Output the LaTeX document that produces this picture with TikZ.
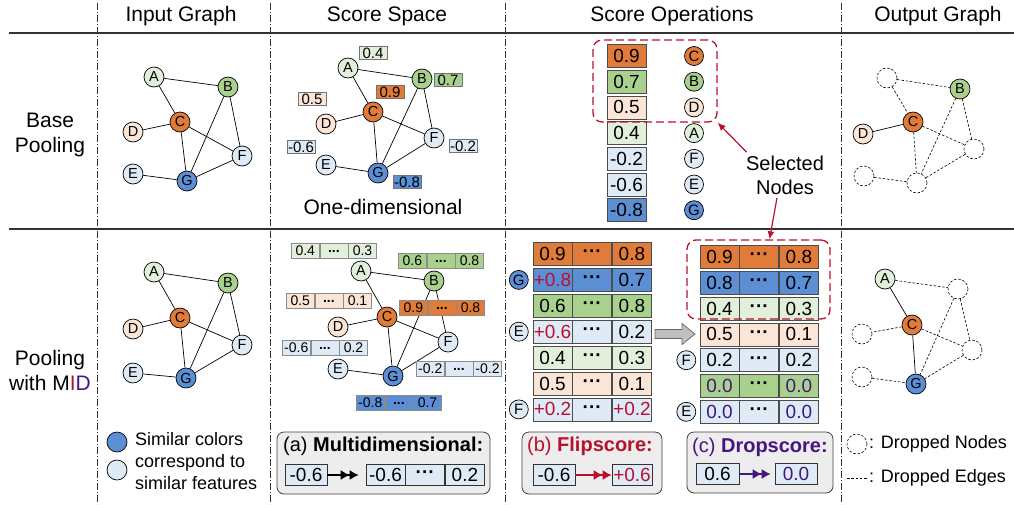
\documentclass[tikz,border=0pt]{standalone}
\usepackage{fontspec}
\setmainfont{Liberation Sans}
\usetikzlibrary{arrows.meta,positioning}

\definecolor{cOrange}{HTML}{E07B39}
\definecolor{cGreen}{HTML}{A9D18E}
\definecolor{cLgreen}{HTML}{E2EFDA}
\definecolor{cPeach}{HTML}{FBE5D6}
\definecolor{cLblue}{HTML}{DEEBF7}
\definecolor{cBlue}{HTML}{5B8ED3}
\definecolor{cRed}{HTML}{B8112E}
\definecolor{cPurple}{HTML}{45167D}
\definecolor{cRule}{HTML}{333333}

\begin{document}
\begin{tikzpicture}[x=1pt, y=-1pt,
  gnode/.style={circle, draw, line width=0.7pt, minimum size=20pt, inner sep=0pt, font=\fontsize{14.5}{14.5}\selectfont},
  gone/.style={circle, draw, line width=0.6pt, dash pattern=on 2.5pt off 1.8pt, minimum size=20pt, inner sep=0pt},
  link/.style={line width=0.7pt},
  gonelink/.style={line width=0.6pt, dash pattern=on 2.5pt off 1.8pt},
  head/.style={font=\fontsize{21}{25}\selectfont, align=center},
  sep/.style={line width=0.8pt, draw=cRule, dash pattern=on 7pt off 2pt on 1pt off 2pt},
  rule/.style={line width=1.2pt, draw=cRule},
  lab/.style={draw=black!55, line width=0.6pt, minimum width=28pt, minimum height=13pt, inner sep=0pt, font=\fontsize{15}{15}\selectfont},
  mcell/.style={draw=black!45, line width=0.6pt, minimum width=28pt, minimum height=15pt, inner sep=0pt, font=\fontsize{14}{14}\selectfont},
  tcell/.style={draw=black!70, line width=0.7pt, minimum width=39pt, minimum height=23pt, inner sep=0pt, font=\fontsize{19}{19}\selectfont},
  pcell/.style={draw=black!80, fill=cLblue, line width=0.7pt, minimum width=42pt, minimum height=21pt, inner sep=0pt, font=\fontsize{19}{19}\selectfont},
  panel/.style={draw=black!75, fill=black!7, line width=0.8pt, rounded corners=7pt},
  ptitle/.style={font=\fontsize{20}{20}\selectfont, anchor=west, inner sep=0pt},
  picked/.style={draw=cRed, line width=1.3pt, dash pattern=on 8pt off 4pt, rounded corners=9pt},
  pointer/.style={draw=cRed, line width=1.2pt, -{Latex[length=8pt, width=7pt]}},
  twotip/.style={line width=1.4pt, -{Latex[length=9pt,width=10pt]Latex[length=9pt,width=10pt]}},
  note/.style={font=\fontsize{18}{22}\selectfont, align=left, anchor=west, inner sep=1pt}
]
\useasboundingbox (0,0) rectangle (1014,504);

% frame
\draw[rule] (9,33) -- (1014,33);
\draw[rule] (9,229) -- (1014,229);
\foreach \x in {97,270,505,841}
  \draw[sep] (\x,3) -- (\x,504);

\node[head] (hin) at (181,16) {Input Graph};
\node[head] (hsc) at (387,16) {Score Space};
\node[head] (hop) at (672,16) {Score Operations};
\node[head] (hout) at (938,16) {Output Graph};
\node[head] (rbase) at (50,135) {Base\\Pooling};
\node[head] (rmid) at (50,370) {Pooling\\with M\textcolor{cRed}{I}\textcolor{cPurple}{D}};

% input graphs
\node[gnode, fill=cLgreen] (u1a) at (154,77) {A};
\node[gnode, fill=cGreen] (u1b) at (228,87) {B};
\node[gnode, fill=cOrange] (u1c) at (180,122) {C};
\node[gnode, fill=cPeach] (u1d) at (133,132) {D};
\node[gnode, fill=cLblue] (u1e) at (133,174) {E};
\node[gnode, fill=cLblue] (u1f) at (242,156) {F};
\node[gnode, fill=cBlue] (u1g) at (187,181) {G};
\draw[link] (u1a) -- (u1b) (u1a) -- (u1c) (u1c) -- (u1d) (u1c) -- (u1f) (u1c) -- (u1g)
  (u1b) -- (u1g) (u1b) -- (u1f) (u1f) -- (u1g) (u1e) -- (u1g);

\node[gnode, fill=cLgreen] (u2a) at (154,272) {A};
\node[gnode, fill=cGreen] (u2b) at (228,283) {B};
\node[gnode, fill=cOrange] (u2c) at (180,318) {C};
\node[gnode, fill=cPeach] (u2d) at (133,329) {D};
\node[gnode, fill=cLblue] (u2e) at (133,373) {E};
\node[gnode, fill=cLblue] (u2f) at (242,345) {F};
\node[gnode, fill=cBlue] (u2g) at (186,378) {G};
\draw[link] (u2a) -- (u2b) (u2a) -- (u2c) (u2c) -- (u2d) (u2c) -- (u2f) (u2c) -- (u2g)
  (u2b) -- (u2g) (u2b) -- (u2f) (u2f) -- (u2g) (u2e) -- (u2g);

\node[gnode, fill=cBlue] (lgdark) at (117,442) {};
\node[gnode, fill=cLblue] (lglight) at (117,470) {};
\node[note] (lgtext) at (134,461) {Similar colors\\correspond to\\similar features};

% score space, one-dimensional
\node[gnode, fill=cLgreen] (v1a) at (348,68) {A};
\node[gnode, fill=cGreen] (v1b) at (422,79) {B};
\node[gnode, fill=cOrange] (v1c) at (373,112) {C};
\node[gnode, fill=cPeach] (v1d) at (326,124) {D};
\node[gnode, fill=cLblue] (v1e) at (326,165) {E};
\node[gnode, fill=cLblue] (v1f) at (434,138) {F};
\node[gnode, fill=cBlue] (v1g) at (378,173) {G};
\draw[link] (v1a) -- (v1b) (v1a) -- (v1c) (v1c) -- (v1d) (v1c) -- (v1f) (v1c) -- (v1g)
  (v1b) -- (v1g) (v1b) -- (v1f) (v1f) -- (v1g) (v1e) -- (v1g);
\node[lab, fill=cLgreen] (la) at (373,53) {0.4};
\node[lab, fill=cGreen] (lb) at (448,80) {0.7};
\node[lab, fill=cOrange] (lc) at (390,92) {0.9};
\node[lab, fill=cPeach] (ld) at (312,99) {0.5};
\node[lab, fill=cLblue] (le) at (301,147) {-0.6};
\node[lab, fill=cLblue] (lf) at (463,146) {-0.2};
\node[lab, fill=cBlue] (lg) at (407,182) {-0.8};
\node[head] (onedim) at (383,207) {One-dimensional};

% score space, multidimensional
\node[gnode, fill=cLgreen] (v2a) at (361,271) {A};
\node[gnode, fill=cGreen] (v2b) at (434,281) {B};
\node[gnode, fill=cOrange] (v2c) at (387,317) {C};
\node[gnode, fill=cPeach] (v2d) at (338,327) {D};
\node[gnode, fill=cLblue] (v2e) at (338,369) {E};
\node[gnode, fill=cLblue] (v2f) at (448,342) {F};
\node[gnode, fill=cBlue] (v2g) at (393,376) {G};
\draw[link] (v2a) -- (v2b) (v2a) -- (v2c) (v2c) -- (v2d) (v2c) -- (v2f) (v2c) -- (v2g)
  (v2b) -- (v2g) (v2b) -- (v2f) (v2f) -- (v2g) (v2e) -- (v2g);
\foreach \n/\x/\y/\c/\p/\q in {a/291/251/cLgreen/0.4/0.3, b/398/261/cGreen/0.6/0.8,
    d/286/301/cPeach/0.5/0.1, c/399/308/cOrange/0.9/0.8, e/282/348/cLblue/-0.6/0.2,
    f/416/369/cLblue/-0.2/-0.2, g/356/403/cBlue/-0.8/0.7} {
  \node[mcell, fill=\c, anchor=west] (m\n1) at (\x,\y) {\p};
  \node[mcell, fill=\c, right=0pt of m\n1] (m\n2) {\textbf{...}};
  \node[mcell, fill=\c, right=0pt of m\n2] (m\n3) {\q};
}

% score operations, base pooling
\foreach \c/\v/\l [count=\r] in {cOrange/0.9/C, cGreen/0.7/B, cPeach/0.5/D, cLgreen/0.4/A,
    cLblue/-0.2/F, cLblue/-0.6/E, cBlue/-0.8/G} {
  \node[tcell, fill=\c] (sc\r) at (626.5,{56+25.7*(\r-1)}) {\v};
  \node[gnode, fill=\c, minimum size=19pt, font=\fontsize{15}{15}\selectfont] (kc\r) at (694,{56+25.7*(\r-1)}) {\l};
}
\node[picked, minimum width=124pt, minimum height=82pt] (pick1) at (655,81) {};
\node[font=\fontsize{20}{24}\selectfont, align=center] (seltxt) at (785,175) {Selected\\Nodes};

% score operations, with MID
\foreach \c/\p/\q [count=\r] in {cOrange/0.9/0.8, cBlue/\textcolor{cRed}{+0.8}/0.7, cGreen/0.6/0.8,
    cLblue/\textcolor{cRed}{+0.6}/0.2, cLgreen/0.4/0.3, cPeach/0.5/0.1,
    cLblue/\textcolor{cRed}{+0.2}/\textcolor{cRed}{+0.2}} {
  \node[tcell, fill=\c] (p\r1) at (552.5,{254+25.9*(\r-1)}) {\p};
  \node[tcell, fill=\c, right=0pt of p\r1] (p\r2) {\textbf{···}};
  \node[tcell, fill=\c, right=0pt of p\r2] (p\r3) {\q};
}
\node[gnode, fill=cBlue, minimum size=19pt, font=\fontsize{15}{15}\selectfont, left=4pt of p21] (pg) {G};
\node[gnode, fill=cLblue, minimum size=19pt, font=\fontsize{15}{15}\selectfont, left=4pt of p41] (pe) {E};
\node[gnode, fill=cLblue, minimum size=19pt, font=\fontsize{15}{15}\selectfont, left=4pt of p71] (pf) {F};

\foreach \c/\p/\q [count=\r] in {cOrange/0.9/0.8, cBlue/0.8/0.7, cLgreen/0.4/0.3, cPeach/0.5/0.1,
    cLblue/0.2/0.2, cGreen/\textcolor{cPurple}{0.0}/\textcolor{cPurple}{0.0},
    cLblue/\textcolor{cPurple}{0.0}/\textcolor{cPurple}{0.0}} {
  \node[tcell, fill=\c] (q\r1) at (719.5,{257+25.8*(\r-1)}) {\p};
  \node[tcell, fill=\c, right=0pt of q\r1] (q\r2) {\textbf{···}};
  \node[tcell, fill=\c, right=0pt of q\r2] (q\r3) {\q};
}
\node[gnode, fill=cLblue, minimum size=19pt, font=\fontsize{15}{15}\selectfont, left=3.5pt of q51] (qf) {F};
\node[gnode, fill=cLblue, minimum size=19pt, font=\fontsize{15}{15}\selectfont, left=3.5pt of q71] (qe) {E};
% block arrow between the tables
\draw[draw=black!60, fill=black!25, line width=0.7pt] (655,329.5) -- (682,329.5) -- (682,323.5)
  -- (695,334) -- (682,344.5) -- (682,338.5) -- (655,338.5) -- cycle;
\node[picked, minimum width=143pt, minimum height=79pt] (pick2) at (758.5,279.5) {};

\draw[pointer] ([xshift=4pt]seltxt.north west) -- (pick1.south east);
\draw[pointer] ([xshift=-8pt]seltxt.south) -- ([xshift=11pt]pick2.north);

% panels
\node[panel, minimum width=213pt, minimum height=62pt] (pana) at (383.5,463) {};
\node[ptitle] (tita) at (283,446) {(a) \textbf{Multidimensional:}};
\node[pcell] (pa1) at (306,475) {-0.6};
\node[pcell, minimum width=39pt] (pa2) at (385.5,475) {-0.6};
\node[pcell, minimum width=39pt, right=0pt of pa2] (pa3) {\textbf{···}};
\node[pcell, minimum width=39pt, right=0pt of pa3] (pa4) {0.2};
\draw[twotip, shorten >=7pt] (pa1) -- (pa2);

\node[panel, minimum width=140pt, minimum height=62pt] (panb) at (592,463) {};
\node[ptitle, text=cRed] (titb) at (527,446) {(b) \textbf{Flipscore:}};
\node[pcell] (pb1) at (554,475) {-0.6};
\node[pcell, minimum width=40pt, text=cRed] (pb2) at (632,475) {+0.6};
\draw[twotip, cRed] (pb1) -- (pb2);

\node[panel, minimum width=146pt, minimum height=61pt] (panc) at (760,462.5) {};
\node[ptitle, text=cPurple] (titc) at (692,447) {(c) \textbf{Dropscore:}};
\node[pcell, minimum width=43pt] (pc1) at (717.5,474) {0.6};
\node[pcell, text=cPurple] (pc2) at (796,474) {0.0};
\draw[twotip, cPurple, shorten >=4pt] (pc1) -- (pc2);

% output graphs
\node[gone] (w1a) at (887,78) {};
\node[gnode, fill=cGreen] (w1b) at (960,89) {B};
\node[gnode, fill=cOrange] (w1c) at (913,122) {C};
\node[gnode, fill=cPeach] (w1d) at (863,134) {D};
\node[gone] (w1e) at (864,176) {};
\node[gone] (w1f) at (974,149) {};
\node[gone] (w1g) at (917,183) {};
\draw[link] (w1c) -- (w1d);
\draw[gonelink] (w1a) -- (w1b) (w1a) -- (w1c) (w1c) -- (w1f) (w1c) -- (w1g)
  (w1b) -- (w1g) (w1b) -- (w1f) (w1f) -- (w1g) (w1e) -- (w1g);

\node[gnode, fill=cLgreen] (w2a) at (885,279) {A};
\node[gone] (w2b) at (958,289) {};
\node[gnode, fill=cOrange] (w2c) at (912,325) {C};
\node[gone] (w2d) at (862,334) {};
\node[gone] (w2e) at (862,377) {};
\node[gone] (w2f) at (972,350) {};
\node[gnode, fill=cBlue] (w2g) at (916,384) {G};
\draw[link] (w2a) -- (w2c) (w2c) -- (w2g);
\draw[gonelink] (w2a) -- (w2b) (w2c) -- (w2d) (w2c) -- (w2f)
  (w2b) -- (w2g) (w2b) -- (w2f) (w2f) -- (w2g) (w2e) -- (w2g);

\node[gone] (lgdrop) at (857,444) {};
\node[note] (lgnodes) at (868,444) {: Dropped Nodes};
\coordinate (lgfree) at (847,478);
\node[note] (lgedges) at (868,478) {: Dropped Edges};
\draw[gonelink] (lgfree) -- (lgedges.west);
\end{tikzpicture}
\end{document}
